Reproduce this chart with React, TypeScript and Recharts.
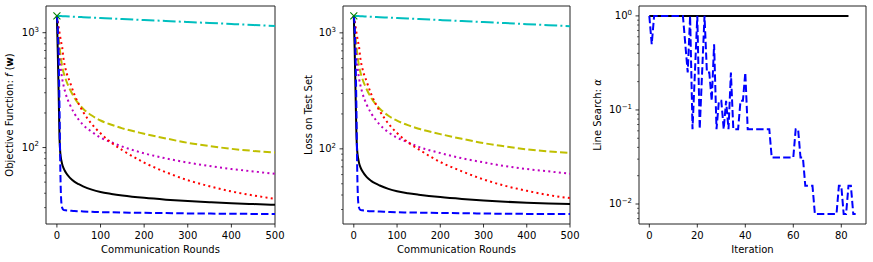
import React from 'react';
import { LineChart, Line, XAxis, YAxis, ReferenceArea } from 'recharts';

const rounds = [0, 2, 4, 6, 8, 10, 12, 15, 20, 30, 40, 50, 60, 80, 100, 125, 150, 200, 250, 300, 350, 400, 450, 500];

// objective function f(w)
const objCyan = [1400, 1399, 1398, 1397, 1396, 1395, 1394, 1392, 1389, 1383, 1377, 1372, 1366, 1355, 1344, 1330, 1317, 1290, 1265, 1240, 1215, 1191, 1167, 1143];
const objYellow = [1400, 1100, 900, 760, 650, 570, 510, 455, 395, 320, 272, 240, 218, 190, 172, 158, 147, 132, 120, 110, 103, 97.5, 93.5, 90.5];
const objMagenta = [1400, 1000, 780, 620, 520, 450, 400, 350, 295, 235, 198, 175, 158, 137, 122, 111, 102, 89, 80.5, 74, 69, 65, 62, 59];
const objRed = [1400, 1250, 1120, 1000, 900, 820, 750, 600, 480, 370, 290, 240, 205, 160, 133, 110, 95, 74, 61, 52, 46, 41.5, 38.3, 35.8];
const objBlack = [1400, 680, 300, 120, 88, 78, 72, 66.5, 61, 54.5, 50.5, 48, 46, 43, 41, 39.5, 38.3, 36.5, 35.2, 34.2, 33.4, 32.7, 32.2, 31.7];
const objBlue = [1400, 1100, 600, 220, 60, 34, 30, 28.7, 28.4, 28.2, 28, 27.9, 27.8, 27.6, 27.4, 27.3, 27.2, 27, 26.9, 26.7, 26.6, 26.5, 26.45, 26.4];

// loss on test set
const testCyan = [1400, 1399, 1398, 1397, 1396, 1395, 1394, 1392, 1389, 1383, 1377, 1371, 1365, 1354, 1343, 1329, 1316, 1289, 1263, 1238, 1213, 1189, 1165, 1142];
const testYellow = [1400, 1110, 910, 770, 660, 580, 520, 462, 400, 325, 276, 244, 222, 193, 175, 160, 149, 134, 122, 112, 105, 99, 95, 92];
const testMagenta = [1400, 1010, 790, 630, 530, 460, 408, 357, 301, 240, 203, 179, 162, 139, 125, 114, 104, 92, 83, 76.5, 71, 67, 64, 61];
const testRed = [1400, 1260, 1130, 1010, 910, 830, 760, 610, 490, 378, 298, 247, 212, 165, 137, 114, 99, 77, 64, 54.5, 48, 43.5, 40, 37.6];
const testBlack = [1400, 720, 310, 135, 95, 83, 76, 70, 64, 57, 53, 50.3, 48.3, 45.2, 43.1, 41.5, 40.3, 38.4, 37, 35.9, 35, 34.3, 33.8, 33.5];
const testBlue = [1400, 1120, 620, 230, 62, 35.5, 31.2, 29.8, 29.5, 29.2, 29, 28.9, 28.8, 28.6, 28.4, 28.3, 28.2, 28, 27.9, 27.7, 27.6, 27.5, 27.45, 27.4];

const startRound = 0;
const startValue = 1400;

const roundTicks = [0, 100, 200, 300, 400, 500];
const lossTicks = [30, 40, 50, 60, 70, 80, 90, 100, 200, 300, 400, 500, 600, 700, 800, 900, 1000];
const lossMajors = [100, 1000];

// line search step size per iteration (index = iteration)
const blueAlpha = [
  1, 0.5, 1, 1, 1, 1, 1, 1, 1, 1, 1, 1, 1, 1, 1, 0.5, 0.25, 1, 0.0625, 0.25,
  1, 0.0625, 0.25, 1, 0.25, 0.25, 0.125, 0.5, 0.0625, 0.125, 0.125, 0.0625, 0.125, 0.0625, 0.25, 0.0625, 0.0625, 0.0625, 0.125, 0.125,
  0.25, 0.0625, 0.0625, 0.0625, 0.0625, 0.0625, 0.0625, 0.0625, 0.0625, 0.0625, 0.0625, 0.03125, 0.03125, 0.03125, 0.03125, 0.03125, 0.03125, 0.03125, 0.03125, 0.03125,
  0.03125, 0.0625, 0.0625, 0.03125, 0.03125, 0.015625, 0.015625, 0.015625, 0.015625, 0.0078125, 0.0078125, 0.0078125, 0.0078125, 0.0078125, 0.0078125, 0.0078125, 0.0078125, 0.0078125, 0.0078125, 0.015625,
  0.015625, 0.0078125, 0.0078125, 0.015625, 0.015625, 0.0078125, 0.0078125,
];
const blackIters = [0, 83];
const blackAlpha = [1, 1];

const iterTicks = [0, 20, 40, 60, 80];
const alphaTicks = [0.007, 0.008, 0.009, 0.01, 0.02, 0.03, 0.04, 0.05, 0.06, 0.07, 0.08, 0.09, 0.1, 0.2, 0.3, 0.4, 0.5, 0.6, 0.7, 0.8, 0.9, 1];
const alphaMajors = [0.01, 0.1, 1];

const FONT = 'DejaVu Sans, sans-serif';

const expLabel = (v: number) => {
  const e = Math.round(Math.log10(v));
  return e < 0 ? `\u2212${-e}` : `${e}`;
};

const makeYTick = (majors: number[]) => (props: any) => {
  const { x, y, payload } = props;
  const major = majors.some((m) => Math.abs(m - payload.value) < 1e-9);
  return (
    <g>
      <line x1={x - (major ? 3.5 : 2)} x2={x} y1={y} y2={y} stroke="#000" strokeWidth={major ? 0.8 : 0.6} />
      {major && (
        <text x={x - 7} y={y + 3.4} textAnchor="end" fontSize={10} fontFamily={FONT} fill="#000">
          10
          <tspan dy={-4.6} fontSize={7}>{expLabel(payload.value)}</tspan>
        </text>
      )}
    </g>
  );
};

const XTick = (props: any) => {
  const { x, y, payload } = props;
  return (
    <g>
      <line x1={x} x2={x} y1={y} y2={y + 3.5} stroke="#000" strokeWidth={0.8} />
      <text x={x} y={y + 14.6} textAnchor="middle" fontSize={10} fontFamily={FONT} fill="#000">
        {payload.value}
      </text>
    </g>
  );
};

const XMark = (props: any) => {
  const { cx, cy } = props;
  if (cx == null || cy == null) return <g />;
  const s = 3.5;
  return (
    <path
      d={`M${cx - s},${cy - s}L${cx + s},${cy + s}M${cx - s},${cy + s}L${cx + s},${cy - s}`}
      stroke="#008000"
      strokeWidth={1.1}
      fill="none"
    />
  );
};

const xTitle = (text: string, cx: number) => () => (
  <text x={cx} y={252.5} textAnchor="middle" fontSize={10} fontFamily={FONT} fill="#000">
    {text}
  </text>
);

const yTitle = (content: React.ReactNode, bx: number) => () => (
  <text x={bx} y={115} transform={`rotate(-90, ${bx}, 115)`} textAnchor="middle" fontSize={10} fontFamily={FONT} fill="#000">
    {content}
  </text>
);

interface LossPanelProps {
  left: number;
  width: number;
  yWidth: number;
  right: number;
  yDomain: [number, number];
  title: React.ReactNode;
  titleX: number;
  cyan: number[];
  yellow: number[];
  magenta: number[];
  red: number[];
  black: number[];
  blue: number[];
}

function LossPanel(p: LossPanelProps) {
  const rows = rounds.map((r, i) => ({
    round: r,
    cyan: p.cyan[i],
    yellow: p.yellow[i],
    magenta: p.magenta[i],
    red: p.red[i],
    black: p.black[i],
    blue: p.blue[i],
  }));
  const xDomain: [number, number] = [-25, 500];
  const plotCx = p.yWidth + (p.width - p.yWidth - p.right) / 2;
  return (
    <div style={{ position: 'absolute', left: p.left, top: 0 }}>
      <LineChart width={p.width} height={262} data={rows} margin={{ top: 6, right: p.right, bottom: 0, left: 0 }}>
        <XAxis
          dataKey="round"
          type="number"
          domain={xDomain}
          ticks={roundTicks}
          allowDataOverflow
          axisLine={false}
          tickLine={false}
          tickSize={0}
          tickMargin={0}
          height={38}
          tick={XTick}
          interval={0}
          label={xTitle('Communication Rounds', plotCx)}
        />
        <YAxis
          type="number"
          scale="log"
          domain={p.yDomain}
          ticks={lossTicks}
          allowDataOverflow
          axisLine={false}
          tickLine={false}
          tickSize={0}
          tickMargin={0}
          width={p.yWidth}
          tick={makeYTick(lossMajors)}
          interval={0}
          label={yTitle(p.title, p.titleX)}
        />
        <ReferenceArea x1={xDomain[0]} x2={xDomain[1]} y1={p.yDomain[0]} y2={p.yDomain[1]} fill="none" stroke="#222" strokeWidth={1} />
        <Line dataKey="cyan" type="monotone" stroke="#00bfbf" strokeWidth={2} strokeDasharray="12.8 3.2 2 3.2" dot={false} isAnimationActive={false} />
        <Line dataKey="yellow" type="monotone" stroke="#bfbf00" strokeWidth={2} strokeDasharray="7.4 3.2" dot={false} isAnimationActive={false} />
        <Line dataKey="magenta" type="monotone" stroke="#bf00bf" strokeWidth={2} strokeDasharray="2 3.3" dot={false} isAnimationActive={false} />
        <Line dataKey="red" type="monotone" stroke="#ff0000" strokeWidth={2} strokeDasharray="2 3.3" dot={false} isAnimationActive={false} />
        <Line dataKey="black" type="monotone" stroke="#000000" strokeWidth={2} dot={false} isAnimationActive={false} />
        <Line dataKey="blue" type="monotone" stroke="#0000ff" strokeWidth={2} strokeDasharray="7.4 3.2" dot={false} isAnimationActive={false} />
        <Line
          data={[{ round: startRound, start: startValue }]}
          dataKey="start"
          stroke="none"
          dot={XMark}
          isAnimationActive={false}
        />
      </LineChart>
    </div>
  );
}

function AlphaPanel() {
  const blueRows = blueAlpha.map((a, i) => ({ iter: i, alpha: a }));
  const blackRows = blackIters.map((it, i) => ({ iter: it, alpha: blackAlpha[i] }));
  const xDomain: [number, number] = [-4.3, 90.3];
  const yDomain: [number, number] = [0.00613, 1.274];
  const width = 288;
  const yWidth = 54;
  const right = 7;
  const plotCx = yWidth + (width - yWidth - right) / 2;
  return (
    <div style={{ position: 'absolute', left: 585, top: 0 }}>
      <LineChart width={width} height={262} data={blueRows} margin={{ top: 6, right, bottom: 0, left: 0 }}>
        <XAxis
          dataKey="iter"
          type="number"
          domain={xDomain}
          ticks={iterTicks}
          allowDataOverflow
          axisLine={false}
          tickLine={false}
          tickSize={0}
          tickMargin={0}
          height={38}
          tick={XTick}
          interval={0}
          label={xTitle('Iteration', plotCx)}
        />
        <YAxis
          type="number"
          scale="log"
          domain={yDomain}
          ticks={alphaTicks}
          allowDataOverflow
          axisLine={false}
          tickLine={false}
          tickSize={0}
          tickMargin={0}
          width={yWidth}
          tick={makeYTick(alphaMajors)}
          interval={0}
          label={yTitle(
            <>
              Line Search: <tspan fontStyle="italic">α</tspan>
            </>,
            15.5
          )}
        />
        <ReferenceArea x1={xDomain[0]} x2={xDomain[1]} y1={yDomain[0]} y2={yDomain[1]} fill="none" stroke="#222" strokeWidth={1} />
        <Line data={blackRows} dataKey="alpha" type="linear" stroke="#000000" strokeWidth={2} dot={false} isAnimationActive={false} />
        <Line dataKey="alpha" type="linear" stroke="#0000ff" strokeWidth={2} strokeDasharray="7.4 3.2" dot={false} isAnimationActive={false} />
      </LineChart>
    </div>
  );
}

export default function App() {
  return (
    <div style={{ position: 'absolute', left: 0, top: 0, width: 873, height: 262, background: '#fff', fontFamily: FONT }}>
      <LossPanel
        left={0}
        width={290}
        yWidth={46}
        right={15}
        yDomain={[21.6, 1708]}
        title={
          <>
            Objective Function: <tspan fontStyle="italic">f</tspan> (<tspan fontWeight="bold">w</tspan>)
          </>
        }
        titleX={13}
        cyan={objCyan}
        yellow={objYellow}
        magenta={objMagenta}
        red={objRed}
        black={objBlack}
        blue={objBlue}
      />
      <LossPanel
        left={290}
        width={295}
        yWidth={53}
        right={15}
        yDomain={[22.5, 1704]}
        title="Loss on Test Set"
        titleX={21.5}
        cyan={testCyan}
        yellow={testYellow}
        magenta={testMagenta}
        red={testRed}
        black={testBlack}
        blue={testBlue}
      />
      <AlphaPanel />
    </div>
  );
}
